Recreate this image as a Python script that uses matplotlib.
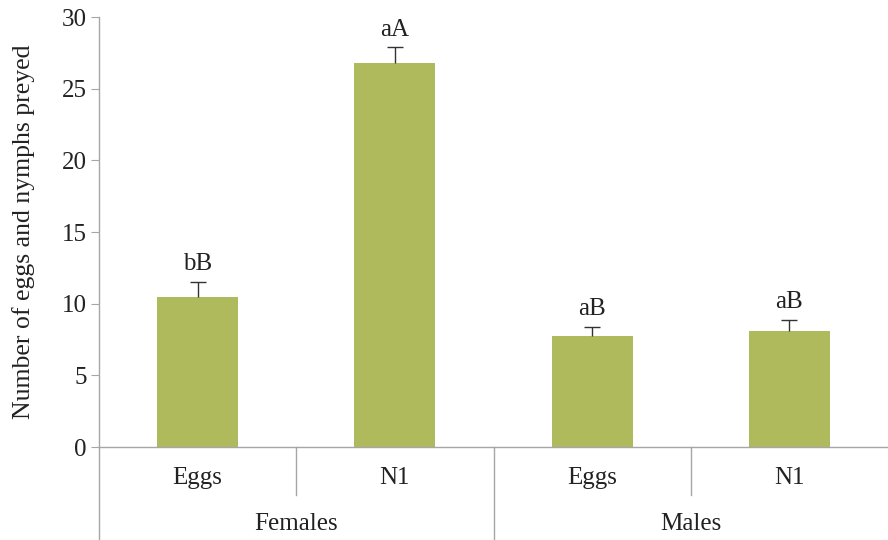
import matplotlib.pyplot as plt
import matplotlib.transforms as mtransforms

plt.rcParams.update({'font.family': 'Liberation Serif', 'font.size': 18})

groups = ['Females', 'Males']
stages = ['Eggs', 'N1', 'Eggs', 'N1']
means = [10.5, 26.8, 7.75, 8.1]
errs = [1.05, 1.1, 0.65, 0.8]
letters = ['bB', 'aA', 'aB', 'aB']

BAR = '#AFBA5C'
AX = '#A6A6A6'
TXT = '#222222'

fig = plt.figure(figsize=(8.88, 5.4), dpi=100)
ax = fig.add_axes([0.1115, 0.172, 0.8885, 0.7965])
x = list(range(len(means)))
tops = [m + e for m, e in zip(means, errs)]
ax.bar(x, means, width=0.41, color=BAR, zorder=2)
# upper-only error bars with a top cap
ax.vlines(x, means, tops, color='#333333', lw=1.0, zorder=3)
ax.plot(x, tops, ls='none', marker='_', markersize=12, markeredgewidth=1.0,
        color='#333333', zorder=3)
for xi, t, lab in zip(x, tops, letters):
    ax.text(xi, t + 0.45, lab, ha='center', va='bottom', fontsize=18, color=TXT)

ax.set_xlim(-0.5, 3.5)
ax.set_ylim(0, 30)
ax.set_yticks(range(0, 31, 5))
ax.set_xticks([])
for s in ('top', 'right'):
    ax.spines[s].set_visible(False)
for s in ('left', 'bottom'):
    ax.spines[s].set_color(AX)
    ax.spines[s].set_linewidth(1.0)
ax.tick_params(axis='y', colors=AX, labelcolor=TXT, length=6, pad=3, labelsize=18)
ax.set_ylabel('Number of eggs and nymphs preyed', fontsize=18.5, color=TXT, labelpad=19)

# two-level category axis
tr = mtransforms.blended_transform_factory(ax.transData, ax.transAxes)
for sx, depth in [(-0.5, -0.216), (0.5, -0.112), (1.5, -0.216), (2.5, -0.112)]:
    ax.plot([sx, sx], [0, depth], color=AX, lw=1.0, transform=tr, clip_on=False)
for xi, s in zip(x, stages):
    ax.text(xi, -0.072, s, transform=tr, ha='center', va='center', fontsize=18, color=TXT)
for gi, g in enumerate(groups):
    ax.text(gi * 2 + 0.5, -0.179, g, transform=tr, ha='center', va='center', fontsize=18, color=TXT)

fig.savefig('out.png', dpi=100)
